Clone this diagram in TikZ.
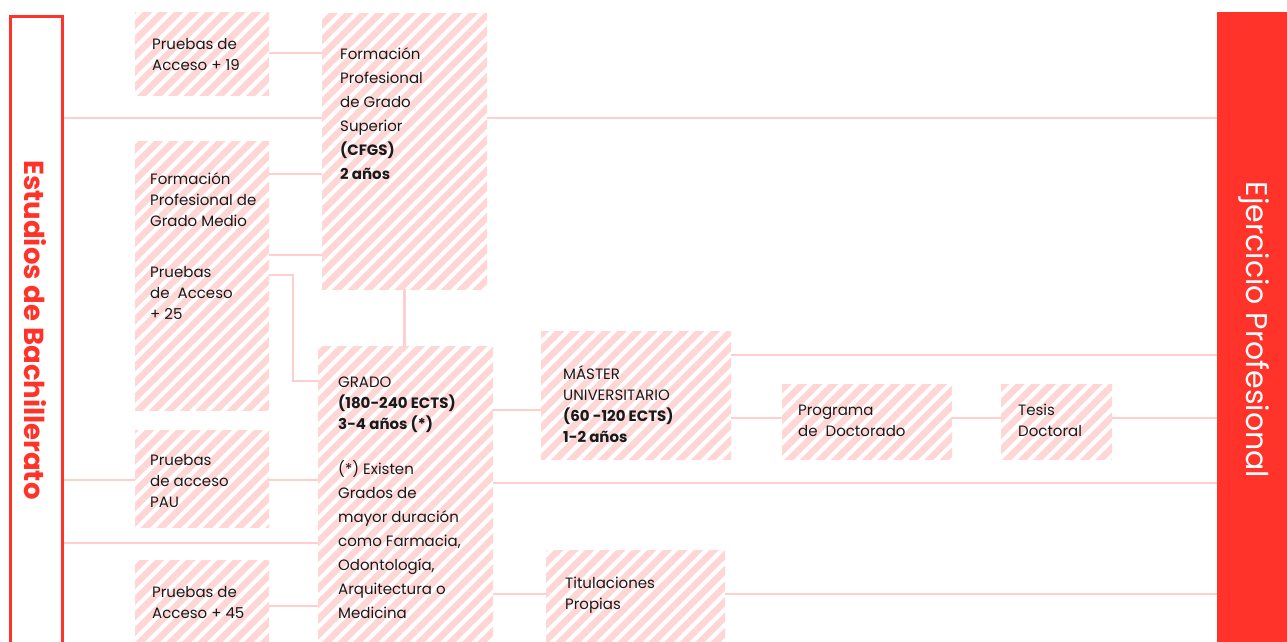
\documentclass[tikz,border=0pt]{standalone}
\usepackage{fontspec}
\setmainfont{Poppins}
\usetikzlibrary{patterns.meta,backgrounds}
\definecolor{redc}{HTML}{FF3329}
\definecolor{stripe}{HTML}{FFD6D6}
\definecolor{linec}{HTML}{FFCFCF}
\definecolor{textc}{HTML}{1A1A1A}
\begin{document}
\begin{tikzpicture}[x=1pt,y=-1pt,
  hbox/.style={anchor=north west, inner sep=0pt, outer sep=0pt, fill=white,
    postaction={pattern={Lines[angle=45,distance=11pt,line width=6.6pt]}, pattern color=stripe}},
  txt/.style={anchor=west, align=left, inner sep=0pt, text=textc,
    font=\fontsize{15}{21}\selectfont},
  txtw/.style={txt, font=\fontsize{15}{24}\selectfont},
  conn/.style={draw=linec, line width=2.8pt}]
\useasboundingbox (0,0) rectangle (1287,642);
\clip (0,0) rectangle (1287,642);

% row coordinates
\foreach \y in {53,118,174,255,275,355,381,410,418,480,483,543,594,606}
  \coordinate (r\y) at (0,\y);
\coordinate (k1) at (293,381);

% side panels
\node[draw=redc, line width=2.6pt, anchor=north west, inner sep=0pt, minimum width=52pt, minimum height=660pt] (bach) at (9,15) {};
\node[fill=redc, anchor=north west, inner sep=0pt, minimum width=80pt, minimum height=660pt] (ejer) at (1217,12) {};
\node[rotate=-90, text=redc, font=\fontsize{27.5}{27.5}\selectfont\bfseries] (bachtxt) at (35,330) {Estudios de Bachillerato};
\node[rotate=-90, text=white, font=\fontsize{30}{30}\selectfont] (ejertxt) at (1254,330) {Ejercicio Profesional};

% hatched boxes
\node[hbox, minimum width=134pt, minimum height=82pt] (p19) at (135,13) {};
\node[hbox, minimum width=165pt, minimum height=275pt] (fps) at (322,14) {};
\node[hbox, minimum width=134pt, minimum height=269pt] (fpm) at (135,141) {};
\node[hbox, minimum width=134pt, minimum height=97pt] (pau) at (135,430) {};
\node[hbox, minimum width=134pt, minimum height=95pt] (p45) at (135,560) {};
\node[hbox, minimum width=175pt, minimum height=310pt] (grado) at (318,346) {};
\node[hbox, minimum width=190pt, minimum height=128pt] (master) at (541,331) {};
\node[hbox, minimum width=179pt, minimum height=100pt] (tit) at (546,550) {};
\node[hbox, minimum width=170pt, minimum height=75pt] (prog) at (782,384) {};
\node[hbox, minimum width=111pt, minimum height=75pt] (tesis) at (1001,384) {};

% texts
\node[txt] (t19) at (152,55) {Pruebas de\\Acceso + 19};
\node[txtw] (tfps) at (340,114) {Formación\\Profesional\\de Grado\\Superior\\\textbf{(CFGS)}\\\textbf{2 años}};
\node[txt] (tfpm) at (150,200) {Formación\\Profesional de\\Grado Medio};
\node[txt] (t25) at (150,292.5) {Pruebas\\de~ Acceso\\+ 25};
\node[txt] (tpau) at (150,481) {Pruebas\\de acceso\\PAU};
\node[txt] (t45) at (152,603) {Pruebas de\\Acceso + 45};
\node[txt] (tgr1) at (338,404.5) {GRADO\\\textbf{(180-240 ECTS)}\\\textbf{3-4 años (*)}};
\node[txtw] (tgr2) at (338,540) {(*) Existen\\Grados de\\mayor duración\\como Farmacia,\\Odontología,\\Arquitectura o\\Medicina};
\node[txt] (tmas) at (563,404) {MÁSTER\\UNIVERSITARIO\\\textbf{(60 -120 ECTS)}\\\textbf{1-2 años}};
\node[txt] (tprog) at (798,420.5) {Programa\\de~ Doctorado};
\node[txt] (ttes) at (1018,420.5) {Tesis\\Doctoral};
\node[txt] (ttit) at (565,595.5) {Titulaciones\\Propias};

% connectors
\begin{scope}[on background layer]
\draw[conn] (p19.east|-r53) -- (fps.west|-r53);
\draw[conn] (bach.east|-r118) -- (fps.west|-r118);
\draw[conn] (fps.east|-r118) -- (ejer.west|-r118);
\draw[conn] (fpm.east|-r174) -- (fps.west|-r174);
\draw[conn] (fpm.east|-r255) -- (fps.west|-r255);
\draw[conn] (fpm.east|-r275) -| (k1) -- (grado.west|-r381);
\draw[conn] (fps.south) -- (fps.south|-grado.north);
\draw[conn] (bach.east|-r480) -- (pau.west|-r480);
\draw[conn] (pau.east|-r480) -- (grado.west|-r480);
\draw[conn] (bach.east|-r543) -- (grado.west|-r543);
\draw[conn] (p45.east|-r606) -- (grado.west|-r606);
\draw[conn] (grado.east|-r410) -- (master.west|-r410);
\draw[conn] (grado.east|-r483) -- (ejer.west|-r483);
\draw[conn] (grado.east|-r594) -- (tit.west|-r594);
\draw[conn] (tit.east|-r594) -- (ejer.west|-r594);
\draw[conn] (master.east|-r355) -- (ejer.west|-r355);
\draw[conn] (master.east|-r418) -- (prog.west|-r418);
\draw[conn] (prog.east|-r418) -- (tesis.west|-r418);
\draw[conn] (tesis.east|-r418) -- (ejer.west|-r418);
\end{scope}
\end{tikzpicture}
\end{document}
